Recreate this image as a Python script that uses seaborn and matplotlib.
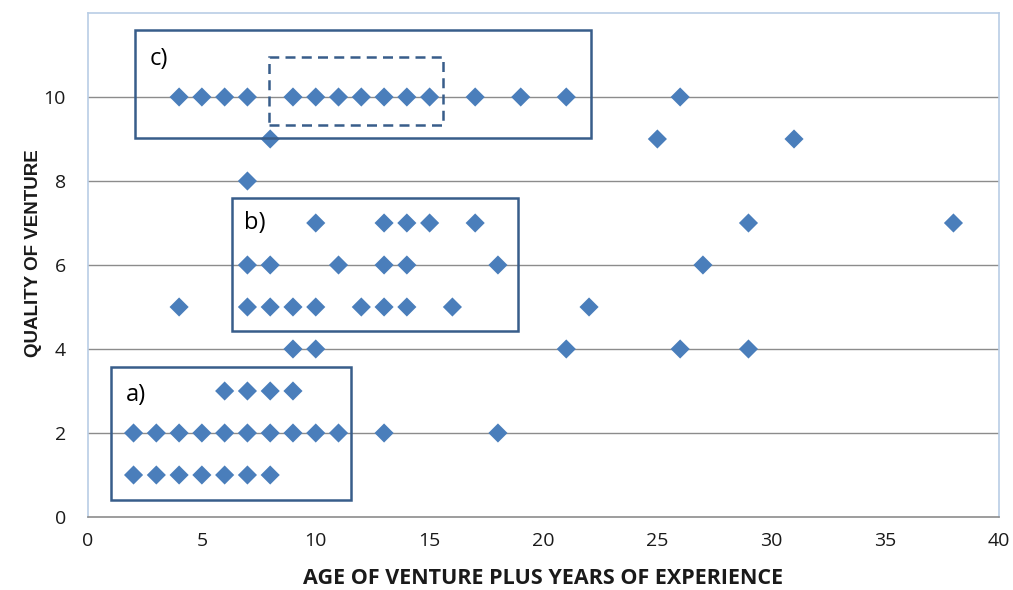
import matplotlib
matplotlib.use("Agg")
import matplotlib.pyplot as plt
import seaborn as sns
import pandas as pd
from matplotlib.patches import Rectangle

# data: x = age of venture + years of experience, y = quality of venture
q10_x = [4, 5, 6, 7, 9, 10, 11, 12, 13, 14, 15, 17, 19, 21, 26]
q9_x = [8, 25, 31]
q8_x = [7]
q7_x = [10, 13, 14, 15, 17, 29, 38]
q6_x = [7, 8, 11, 13, 14, 18, 27]
q5_x = [4, 7, 8, 9, 10, 12, 13, 14, 16, 22]
q4_x = [9, 10, 21, 26, 29]
q3_x = [6, 7, 8, 9]
q2_x = [2, 3, 4, 5, 6, 7, 8, 9, 10, 11, 13, 18]
q1_x = [2, 3, 4, 5, 6, 7, 8]

groups = {10: q10_x, 9: q9_x, 8: q8_x, 7: q7_x, 6: q6_x,
          5: q5_x, 4: q4_x, 3: q3_x, 2: q2_x, 1: q1_x}
rows = [(x, q) for q, xs in groups.items() for x in xs]
df = pd.DataFrame(rows, columns=["age_exp", "quality"])

# annotation boxes (x0, y0, x1, y1) in data units, label, dashed
boxes = [
    (2.06, 9.02, 22.1, 11.6, "c)", False),
    (7.95, 9.33, 15.6, 10.95, None, True),
    (6.32, 4.43, 18.9, 7.6, "b)", False),
    (1.0, 0.40, 11.55, 3.57, "a)", False),
]
label_pos = {"c)": (3.1, 10.9), "b)": (7.3, 7.0), "a)": (2.1, 2.9)}

x_ticks = [0, 5, 10, 15, 20, 25, 30, 35, 40]
y_ticks = [0, 2, 4, 6, 8, 10]

sns.set_theme(style="white")
plt.rcParams["font.family"] = ["Open Sans", "DejaVu Sans"]

fig = plt.figure(figsize=(10.13, 5.90), dpi=100)
ax = fig.add_axes([88 / 1013, 1 - 517 / 590, (999 - 88) / 1013, (517 - 13) / 590])

for yv in y_ticks[1:]:
    ax.axhline(yv, color="#8c8c8c", lw=1.0, zorder=1)

sns.scatterplot(data=df, x="age_exp", y="quality", marker="D", s=95,
                color="#4a7ebb", edgecolor="none", linewidth=0, ax=ax, zorder=3)

box_color = "#385d8a"
for x0, y0, x1, y1, lab, dashed in boxes:
    ax.add_patch(Rectangle((x0, y0), x1 - x0, y1 - y0, fill=False,
                           edgecolor=box_color, lw=1.8,
                           linestyle=(0, (4, 2.5)) if dashed else "-",
                           zorder=4))
    if lab:
        lx, ly = label_pos[lab]
        ax.text(lx, ly, lab, fontsize=17, color="black", ha="center",
                va="center", zorder=5)

ax.set_xlim(0, 40)
ax.set_ylim(0, 12)
ax.set_xticks(x_ticks)
ax.set_yticks(y_ticks)
ax.tick_params(axis="both", labelsize=14, colors="#1a1a1a", length=0)
ax.tick_params(axis="x", pad=11)
ax.tick_params(axis="y", pad=16)

for s in ["top", "right", "left"]:
    ax.spines[s].set_color("#b9cde5")
    ax.spines[s].set_linewidth(1.2)
ax.spines["bottom"].set_color("#8c8c8c")
ax.spines["bottom"].set_linewidth(1.2)

ax.set_xlabel("AGE OF VENTURE PLUS YEARS OF EXPERIENCE", fontsize=15.5,
              fontweight="bold", color="#1a1a1a")
ax.xaxis.set_label_coords(0.5, -(578 - 517) / 504, transform=ax.transAxes)
ax.xaxis.label.set_va("center")
ax.set_ylabel("QUALITY OF VENTURE", fontsize=13.5, fontweight="bold",
              color="#1a1a1a", family=["Liberation Sans", "DejaVu Sans"])
ax.yaxis.set_label_coords(-(88 - 33) / 911, (517 - 253) / 504,
                          transform=ax.transAxes)
ax.yaxis.label.set_va("center")

fig.savefig("out.png", dpi=100)
